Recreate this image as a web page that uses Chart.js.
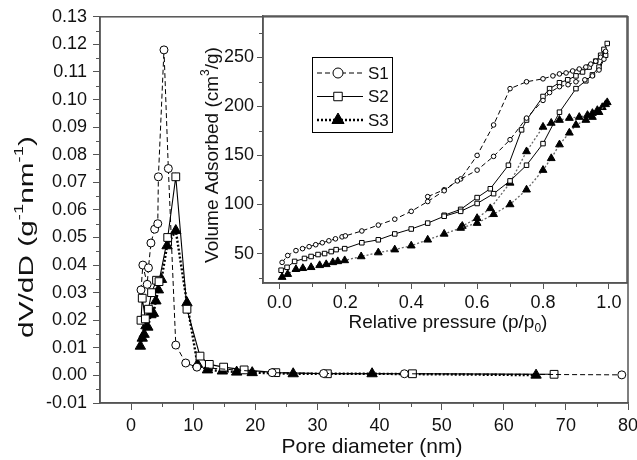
<!DOCTYPE html>
<html>
<head>
<meta charset="utf-8">
<script src="https://cdn.jsdelivr.net/npm/chart.js@4.4.1/dist/chart.umd.min.js"></script>
<style>
  html, body { margin: 0; padding: 0; background: #fff; }
  #wrap { position: relative; width: 637px; height: 460px; }
  #main { position: absolute; left: 0; top: 0; }
  #inset { position: absolute; left: 190px; top: 0; }
</style>
</head>
<body>
<div id="wrap">
  <canvas id="main" width="637" height="460"></canvas>
  <canvas id="inset" width="447" height="345"></canvas>
</div>
<script>
// ---- main plot: pore size distribution ----
const s1Pore = [1.6, 1.9, 2.6, 2.8, 3.2, 3.8, 4.3, 4.4, 5.3, 6.0, 7.2, 8.8, 10.6, 22.7, 31.0, 44.0, 79.0];
const s1Dv   = [0.031, 0.040, 0.033, 0.039, 0.048, 0.053, 0.055, 0.072, 0.118, 0.075, 0.011, 0.0045, 0.003, 0.001, 0.0007, 0.0006, 0.0002];
const s2Pore = [1.6, 1.8, 2.3, 2.8, 3.3, 4.1, 4.5, 5.9, 7.2, 9.0, 11.1, 12.6, 14.9, 18.2, 23.3, 31.6, 45.3, 68.1];
const s2Dv   = [0.020, 0.028, 0.0205, 0.024, 0.030, 0.0345, 0.034, 0.050, 0.072, 0.024, 0.007, 0.004, 0.003, 0.002, 0.001, 0.0006, 0.0006, 0.0004];
const s3Pore = [1.5, 1.8, 2.1, 2.4, 2.7, 3.2, 3.6, 4.0, 4.4, 4.9, 5.8, 7.2, 9.0, 10.7, 12.3, 14.7, 17.0, 19.5, 26.1, 38.8, 65.2];
const s3Dv   = [0.0106, 0.0135, 0.0149, 0.018, 0.0175, 0.022, 0.0225, 0.027, 0.031, 0.0348, 0.047, 0.0525, 0.0263, 0.004, 0.002, 0.0016, 0.0012, 0.001, 0.0006, 0.0006, 0.0001];

const poreTicks = [0, 10, 20, 30, 40, 50, 60, 70, 80];
const poreMinor = [5, 15, 25, 35, 45, 55, 65, 75];
const dvTicks = [-0.01, 0, 0.01, 0.02, 0.03, 0.04, 0.05, 0.06, 0.07, 0.08, 0.09, 0.10, 0.11, 0.12, 0.13];
const dvMinor = [-0.005, 0.005, 0.015, 0.025, 0.035, 0.045, 0.055, 0.065, 0.075, 0.085, 0.095, 0.105, 0.115, 0.125];

// ---- inset: N2 isotherms (adsorption / desorption branches) ----
const s1AdsP = [0.008, 0.025, 0.05, 0.07, 0.09, 0.11, 0.13, 0.15, 0.17, 0.19, 0.2, 0.25, 0.3, 0.35, 0.4, 0.45, 0.5, 0.54, 0.6, 0.65, 0.7, 0.75, 0.8, 0.82, 0.85, 0.876, 0.9, 0.927, 0.95, 0.97, 0.985];
const s1AdsV = [41, 48, 53, 55, 57, 59, 61, 63, 65, 67, 68, 73, 79, 85, 93, 103, 114, 124, 135, 149, 166, 188, 206, 214, 220, 222, 225, 227, 231, 237, 248];
const s1DesP = [0.99, 0.975, 0.96, 0.945, 0.93, 0.91, 0.89, 0.87, 0.85, 0.83, 0.8, 0.75, 0.7, 0.65, 0.6, 0.55, 0.5, 0.45];
const s1DesV = [256, 250, 246, 243, 240, 238, 236, 234, 233, 231, 228, 225, 218, 181, 150, 126, 115, 108];
const s2AdsP = [0.005, 0.023, 0.046, 0.076, 0.096, 0.117, 0.137, 0.157, 0.172, 0.198, 0.25, 0.3, 0.35, 0.4, 0.45, 0.5, 0.55, 0.6, 0.65, 0.7, 0.75, 0.8, 0.85, 0.9, 0.93, 0.95, 0.97, 0.99];
const s2AdsV = [33, 36, 42, 45, 47, 49, 50, 52, 54, 55, 61, 64, 70, 75, 81, 88, 93, 101, 111, 124, 140, 162, 194, 218, 226, 232, 240, 252];
const s2DesP = [0.995, 0.985, 0.975, 0.96, 0.94, 0.92, 0.9, 0.875, 0.85, 0.82, 0.8, 0.75, 0.735, 0.695, 0.64, 0.6, 0.55, 0.5];
const s2DesV = [264, 258, 252, 246, 240, 235, 231, 227, 224, 218, 210, 186, 176, 140, 116, 107, 95, 89];
const s3AdsP = [0.008, 0.025, 0.05, 0.071, 0.096, 0.122, 0.142, 0.162, 0.177, 0.198, 0.248, 0.3, 0.35, 0.4, 0.45, 0.5, 0.55, 0.6, 0.65, 0.7, 0.75, 0.8, 0.825, 0.85, 0.88, 0.9, 0.93, 0.95, 0.97, 0.99];
const s3AdsV = [26, 29, 34, 35, 36, 38, 39, 41, 42, 43, 47, 51, 54, 58, 64, 70, 76, 81, 90, 100, 115, 135, 147, 161, 173, 181, 186, 189, 194, 202];
const s3DesP = [0.995, 0.98, 0.965, 0.95, 0.935, 0.91, 0.88, 0.85, 0.825, 0.8, 0.75, 0.7, 0.64, 0.6, 0.555];
const s3DesV = [204, 199, 196, 193, 191, 189, 188, 186, 183, 179, 154, 122, 96, 86, 78];

const pTicks = [0, 0.2, 0.4, 0.6, 0.8, 1.0];
const pMinor = [0.1, 0.3, 0.5, 0.7, 0.9];
const vTicks = [50, 100, 150, 200, 250];
const vMinor = [25, 75, 125, 175, 225, 275];

const sampleNames = ['S1', 'S2', 'S3'];

const FONT = '"Liberation Sans", Arial, Helvetica, sans-serif';
const AXIS = '#555';
const INK = '#111';

function pts(xs, ys) { return xs.map((x, i) => ({ x: x, y: ys[i] })); }

// per-sample look
const look = {
  S1: { pointStyle: 'circle', fill: '#fff', dash: [5, 3], line: '#000' },
  S2: { pointStyle: 'rect', fill: '#fff', dash: [], line: '#000' },
  S3: { pointStyle: 'triangle', fill: '#000', dash: [2, 2], line: '#000' }
};

function ds(name, data, radius, lineWidth, lineColor) {
  const l = look[name];
  return {
    label: name,
    data: data,
    showLine: true,
    borderColor: lineColor || l.line,
    borderWidth: lineWidth,
    borderDash: l.dash,
    pointStyle: l.pointStyle,
    pointRadius: radius,
    pointBackgroundColor: l.fill,
    pointBorderColor: '#000',
    pointBorderWidth: 1,
    tension: 0
  };
}

// frame around plot area + short minor ticks
const framePlugin = {
  id: 'frame',
  afterDraw(chart, args, o) {
    const { ctx, chartArea: a } = chart;
    const x = chart.scales.x, y = chart.scales.y;
    ctx.save();
    ctx.strokeStyle = AXIS;
    ctx.lineWidth = 1.5;
    ctx.strokeRect(a.left, a.top, a.right - a.left, a.bottom - a.top);
    ctx.lineWidth = 1;
    ctx.beginPath();
    o.xMinor.forEach(v => {
      const px = Math.round(x.getPixelForValue(v)) + 0.5;
      ctx.moveTo(px, a.bottom); ctx.lineTo(px, a.bottom + o.len);
    });
    o.yMinor.forEach(v => {
      const py = Math.round(y.getPixelForValue(v)) + 0.5;
      ctx.moveTo(a.left, py); ctx.lineTo(a.left - o.len, py);
    });
    ctx.stroke();
    ctx.restore();
  }
};

// axis titles with super/subscripts
function drawRich(ctx, parts, cx, cy, size, vertical, stretch) {
  ctx.save();
  ctx.translate(cx, cy);
  if (vertical) ctx.rotate(-Math.PI / 2);
  if (stretch) ctx.scale(stretch, 1);
  const fontOf = p => ((p.sup || p.sub) ? Math.round(size * 0.62) : size) + 'px ' + FONT;
  let w = 0;
  parts.forEach(p => { ctx.font = fontOf(p); w += ctx.measureText(p.t).width; });
  let x = -w / 2;
  ctx.fillStyle = INK;
  ctx.textAlign = 'left';
  ctx.textBaseline = 'middle';
  parts.forEach(p => {
    ctx.font = fontOf(p);
    const dy = p.sup ? -size * 0.36 : (p.sub ? size * 0.32 : 0);
    ctx.fillText(p.t, x, dy);
    x += ctx.measureText(p.t).width;
  });
  ctx.restore();
}

const titlePlugin = {
  id: 'titles',
  afterDraw(chart, args, o) {
    o.items.forEach(it => drawRich(chart.ctx, it.parts, it.x, it.y, it.size, it.vertical, it.stretch));
  }
};

// inset legend: line sample with marker in the middle
const legendPlugin = {
  id: 'insetLegend',
  afterDraw(chart, args, o) {
    const { ctx, chartArea: a } = chart;
    const bx = a.left + 49, by = a.top + 41, bw = 80, bh = 75;
    ctx.save();
    ctx.strokeStyle = '#000';
    ctx.lineWidth = 1;
    ctx.strokeRect(bx + 0.5, by + 0.5, bw, bh);
    sampleNames.forEach((name, i) => {
      const l = look[name];
      const cy = by + 16 + i * 23.5;
      ctx.strokeStyle = '#000';
      ctx.lineWidth = name === 'S3' ? 2.4 : 1.1;
      ctx.setLineDash(l.dash);
      ctx.beginPath();
      ctx.moveTo(bx + 5, cy); ctx.lineTo(bx + 51, cy);
      ctx.stroke();
      ctx.setLineDash([]);
      ctx.fillStyle = l.fill;
      ctx.lineWidth = 1;
      Chart.helpers.drawPoint(ctx, { pointStyle: l.pointStyle, radius: name === 'S3' ? 7 : (name === 'S2' ? 6 : 5), rotation: 0, borderWidth: 1 }, bx + 26, cy);
      ctx.fillStyle = INK;
      ctx.font = '17px ' + FONT;
      ctx.textBaseline = 'middle';
      ctx.textAlign = 'left';
      ctx.fillText(name, bx + 56, cy + 1);
    });
    ctx.restore();
  }
};

function axis(opts) {
  return {
    type: 'linear',
    min: opts.min,
    max: opts.max,
    afterBuildTicks: s => { s.ticks = opts.ticks.map(v => ({ value: v })); },
    afterFit: s => {
      if (opts.height) s.height = opts.height;
      if (opts.width) s.width = opts.width;
      s.paddingLeft = 0; s.paddingRight = 0;
    },
    grid: { drawOnChartArea: false, drawTicks: true, tickLength: opts.tickLen, color: AXIS, lineWidth: 1 },
    border: { color: AXIS, width: 1.5 },
    ticks: {
      autoSkip: false, maxRotation: 0, minRotation: 0,
      padding: opts.pad,
      color: INK,
      font: { family: FONT, size: 18 },
      callback: v => v.toFixed(opts.dec)
    }
  };
}

Chart.defaults.animation = false;

new Chart(document.getElementById('main'), {
  type: 'scatter',
  data: {
    datasets: [
      ds('S1', pts(s1Pore, s1Dv), 4, 1),
      ds('S2', pts(s2Pore, s2Dv), 5.5, 1.1),
      ds('S3', pts(s3Pore, s3Dv), 6, 2.4)
    ]
  },
  options: {
    responsive: false,
    events: [],
    layout: { padding: { left: 0, top: 16, right: 9, bottom: 0 } },
    plugins: {
      legend: { display: false },
      tooltip: { enabled: false },
      frame: { xMinor: poreMinor, yMinor: dvMinor, len: 4 },
      titles: {
        items: [
          { parts: [{ t: 'Pore diameter (nm)' }], x: 372, y: 447, size: 21 },
          { parts: [{ t: 'dV/dD (g' }, { t: '-1', sup: true }, { t: 'nm' }, { t: '-1', sup: true }, { t: ')' }], x: 27, y: 237, size: 21, vertical: true, stretch: 1.42 }
        ]
      }
    },
    scales: {
      x: axis({ min: -5, max: 80, ticks: poreTicks, height: 57, tickLen: 7, pad: 5, dec: 0 }),
      y: axis({ min: -0.01, max: 0.13, ticks: dvTicks, width: 100, tickLen: 7, pad: 6, dec: 2 })
    }
  },
  plugins: [framePlugin, titlePlugin]
});

new Chart(document.getElementById('inset'), {
  type: 'scatter',
  data: {
    datasets: [
      ds('S1', pts(s1AdsP, s1AdsV), 2.3, 1),
      ds('S1', pts(s1DesP, s1DesV), 2.3, 1),
      ds('S2', pts(s2AdsP, s2AdsV), 3.2, 1),
      ds('S2', pts(s2DesP, s2DesV), 3.2, 1),
      ds('S3', pts(s3AdsP, s3AdsV), 4.5, 1.3, '#666'),
      ds('S3', pts(s3DesP, s3DesV), 4.5, 1.3, '#666')
    ]
  },
  options: {
    responsive: false,
    events: [],
    layout: { padding: { left: 0, top: 16, right: 10, bottom: 0 } },
    plugins: {
      legend: { display: false },
      tooltip: { enabled: false },
      frame: { xMinor: pMinor, yMinor: vMinor, len: 4 },
      titles: {
        items: [
          { parts: [{ t: 'Relative pressure (p/p' }, { t: '0', sub: true }, { t: ')' }], x: 258, y: 323, size: 19 },
          { parts: [{ t: 'Volume Adsorbed (cm' }, { t: '3', sup: true }, { t: '/g)' }], x: 23, y: 155, size: 19, vertical: true }
        ]
      }
    },
    scales: {
      x: axis({ min: -0.05, max: 1.055, ticks: pTicks, height: 62, tickLen: 6, pad: 3, dec: 1 }),
      y: axis({ min: 20, max: 292, ticks: vTicks, width: 73, tickLen: 6, pad: 3, dec: 0 })
    }
  },
  plugins: [framePlugin, titlePlugin, legendPlugin]
});
</script>
</body>
</html>
